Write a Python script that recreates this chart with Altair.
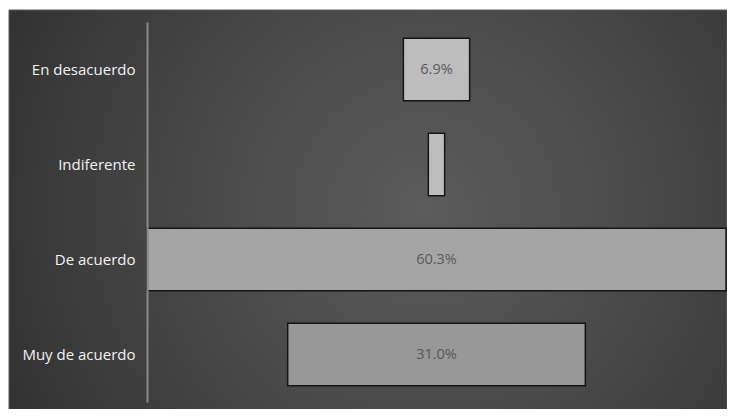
import altair as alt
import pandas as pd

categories = ["En desacuerdo", "Indiferente", "De acuerdo", "Muy de acuerdo"]
values = [6.9, 1.7, 60.3, 31.0]
show_label = [True, False, True, True]

df = pd.DataFrame({"cat": categories, "v": values, "show": show_label})

W, H = 579, 380

bg = alt.Chart(pd.DataFrame({"a": [0]})).mark_rect(
    fill=alt.Gradient(
        gradient="radial",
        stops=[alt.GradientStop(color="#5c5c5c", offset=0),
               alt.GradientStop(color="#454545", offset=0.5),
               alt.GradientStop(color="#2a2a2a", offset=1)],
        x1=0.58, y1=0.5, x2=0.58, y2=0.5, r1=0, r2=0.75,
    ),
    stroke="#5a5a5a", strokeWidth=1,
).encode(
    x=alt.value(-138), x2=alt.value(W + 1),
    y=alt.value(-12), y2=alt.value(H + 8),
)

base = alt.Chart(df).transform_joinaggregate(
    vmax="max(v)"
).transform_calculate(
    x0="(datum.vmax - datum.v) / 2",
    x1="(datum.vmax - datum.v) / 2 + datum.v",
    xm="datum.vmax / 2",
    lab="datum.show ? format(datum.v / 100, '.1%') : ''",
)

yenc = alt.Y("cat:N", sort=categories, title=None,
             scale=alt.Scale(paddingInner=0.34, paddingOuter=0.17),
             axis=alt.Axis(domainColor="#8a8a8a", domainWidth=2, ticks=False,
                           labelColor="#f2f2f2", labelFontSize=15,
                           labelFont="Open Sans", labelPadding=12, zindex=1))

bars = base.mark_bar(stroke="#151515", strokeWidth=1.5, cornerRadius=0).encode(
    y=yenc,
    x=alt.X("x0:Q", scale=alt.Scale(domain=[0, 60.3], nice=False, zero=False), axis=None),
    x2="x1:Q",
    fill=alt.Fill("cat:N", legend=None,
                  scale=alt.Scale(domain=categories,
                                  range=["#bdbdbd", "#bdbdbd", "#a5a5a5", "#989898"])),
)

text = base.mark_text(color="#595959", fontSize=14.5, font="Open Sans").encode(
    y=alt.Y("cat:N", sort=categories),
    x=alt.X("xm:Q"),
    text="lab:N",
)

chart = alt.layer(bg, bars, text).properties(
    width=W, height=H,
    autosize=alt.AutoSizeParams(type="none"),
    padding={"left": 139, "top": 14, "right": 1, "bottom": 7},
    background="white",
).configure_view(stroke=None)

chart.save("out.html", embed_options={"renderer": "svg", "actions": False})
